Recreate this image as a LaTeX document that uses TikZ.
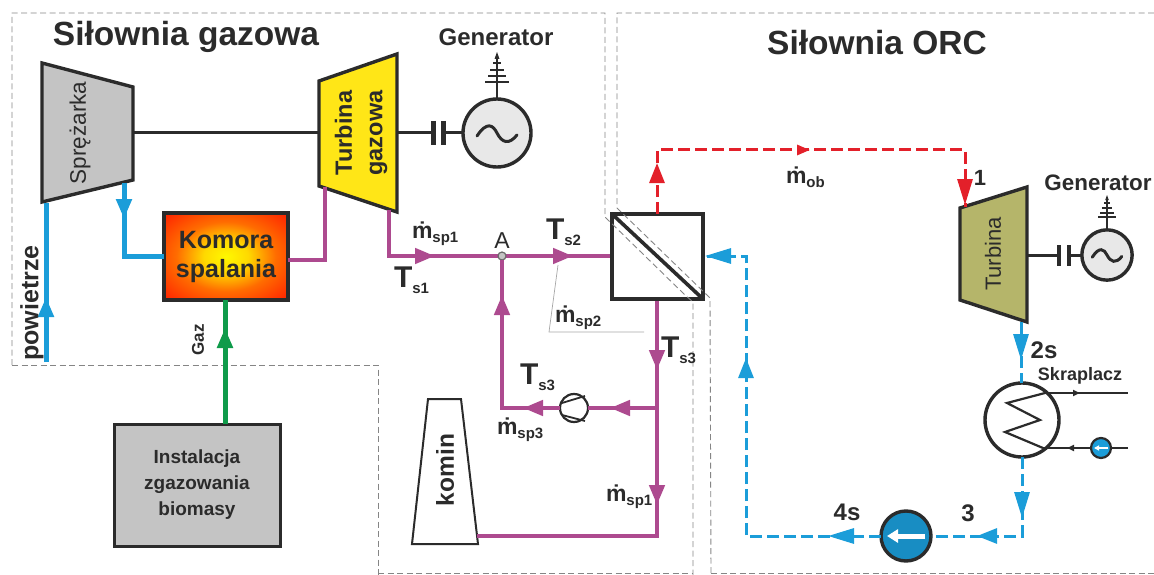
\documentclass[tikz,border=0pt]{standalone}
\usepackage{fontspec}
\setmainfont{Liberation Sans}
\usetikzlibrary{arrows.meta,decorations.markings,shapes.geometric}
\definecolor{ink}{HTML}{2B2B2B}
\definecolor{flowblue}{HTML}{1B9DD9}
\definecolor{flowpurple}{HTML}{AD4A8F}
\definecolor{flowgreen}{HTML}{0F9B4A}
\definecolor{flowred}{HTML}{E3202A}
\definecolor{boxgray}{HTML}{C4C4C4}
\definecolor{turbyellow}{HTML}{FFE617}
\definecolor{turbolive}{HTML}{B5B56A}
\definecolor{gengray}{HTML}{E8E8E8}
\definecolor{borderg}{HTML}{858585}
\pgfdeclareradialshading{flame}{\pgfpointorigin}{
  color(0bp)=(yellow!95!orange);
  color(9bp)=(yellow!70!orange);
  color(20bp)=(orange!85!red);
  color(34bp)=(red!70!orange);
  color(50bp)=(red!85!orange)}
\newcommand{\fsz}[1]{\fontsize{#1}{#1}\selectfont}
\newcommand{\bigT}[1]{{\fsz{30}\bfseries T}\raisebox{-6pt}{\fsz{15}\bfseries #1}}
\newcommand{\mdot}[1]{{\fsz{23}\bfseries \.{m}}\raisebox{-4pt}{\fsz{15}\bfseries #1}}
\tikzset{
  x=1pt,y=-1pt,
  every node/.style={text=ink,inner sep=0pt,outer sep=0pt},
  outline/.style={draw=ink,line width=3.4pt,line join=miter},
  shaft/.style={draw=ink,line width=3pt},
  air/.style={draw=flowblue,line width=5pt},
  flue/.style={draw=flowpurple,line width=4.5pt,line join=miter},
  fuel/.style={draw=flowgreen,line width=5pt},
  hotorc/.style={draw=flowred,line width=3pt,dash pattern=on 12pt off 5pt},
  coldorc/.style={draw=flowblue,line width=3pt,dash pattern=on 12pt off 5pt},
  border/.style={draw=borderg,line width=.9pt,dash pattern=on 6pt off 3.5pt},
  thinline/.style={draw=black!35,line width=.7pt},
  tipat/.style={postaction={decorate,decoration={markings,mark=at position #1pt with {\arrow[solid]{Triangle[length=20pt,width=15pt]}}}}},
  longtip/.style={postaction={decorate,decoration={markings,mark=at position #1pt with {\arrow[solid]{Triangle[length=26pt,width=15pt]}}}}},
  smalltip/.style={postaction={decorate,decoration={markings,mark=at position #1pt with {\arrow[solid]{Triangle[length=13pt,width=10pt]}}}}},
  minitip/.style={postaction={decorate,decoration={markings,mark=at position #1pt with {\arrow[solid]{Triangle[length=7pt,width=6pt]}}}}},
  gentext/.style={font=\fsz{24}\bfseries},
}
\newcommand{\gensym}[4]{% name, cx, cy, scale
  \begin{scope}[shift={(#2,#3)},scale=#4]
    \node[circle,draw=ink,fill=gengray,line width=3.4pt,minimum size=#4*68pt] (#1) at (0,0) {};
    \draw[ink,line width=3pt,line cap=round] (-20,3) .. controls (-10,-12) and (-4,-8) .. (0,0) .. controls (5,10) and (12,12) .. (20,2);
    \draw[ink,line width=2.4pt] (0,-35) -- (0,-78);
    \draw[ink,line width=2pt] (-12,-51) -- (12,-51) (-9,-57) -- (9,-57) (-7,-63) -- (7,-63) (-4,-70) -- (4,-70);
    \fill[ink] (0,-81) -- (-2.5,-74) -- (2.5,-74) -- cycle;
  \end{scope}}
\begin{document}
\begin{tikzpicture}
\useasboundingbox (0,0) rectangle (1154,575);
% region borders (outer parts)
\draw[border] (12,365) -- (378,365) -- (378,575);
\draw[border] (378,573) -- (693,573);
\draw[border] (711,573) -- (1154,573);
\node[font=\fsz{33.5}\bfseries] (title1) at (186,37) {Siłownia gazowa};
\node[font=\fsz{33.5}\bfseries] (title2) at (877,43) {Siłownia ORC};
% coordinates
\coordinate (compR) at (133,133); \coordinate (compBot) at (124,183); \coordinate (compIn) at (46,203);
\coordinate (airEnd) at (46,362);
\coordinate (turbL) at (319,133); \coordinate (turbR) at (397,133);
\coordinate (turbIn) at (325,187); \coordinate (turbOut) at (389,210);
\coordinate (corner1) at (124,256); \coordinate (corner2) at (325,260); \coordinate (corner3) at (389,256);
\coordinate (capA) at (433,133); \coordinate (capB) at (443,133);
\coordinate (capA1) at (433,121); \coordinate (capA2) at (433,145);
\coordinate (capB1) at (443,121); \coordinate (capB2) at (443,145);
\coordinate (capC) at (1059,255); \coordinate (capD) at (1069,255);
\coordinate (capC1) at (1059,245); \coordinate (capC2) at (1059,266);
\coordinate (capD1) at (1069,245); \coordinate (capD2) at (1069,266);
\coordinate (orcR) at (1027,255);
\coordinate (branch) at (657,408); \coordinate (bottomR) at (657,536);
\coordinate (retA) at (502,408);
\coordinate (hxTop) at (657,214); \coordinate (hxBot) at (657,299); \coordinate (hxL) at (612,256); \coordinate (hxR) at (703,256);
\coordinate (redA) at (657,150); \coordinate (redB) at (965,150); \coordinate (redC) at (965,207);
\coordinate (orcOut) at (1021,322); \coordinate (condTop) at (1021,383);
\coordinate (condBot) at (1022,457); \coordinate (bCorner) at (1022,536);
\coordinate (bCornerL) at (746,536); \coordinate (bCornerT) at (746,256);
\coordinate (kominIn) at (477,536);
\coordinate (cw1) at (1045,393); \coordinate (cw1e) at (1128,393);
\coordinate (cw2) at (1043,448); \coordinate (cw2e) at (1128,448);
\coordinate (leadA) at (558,265); \coordinate (leadB) at (549,332); \coordinate (leadC) at (644,332);
\coordinate (gasTop) at (225,424); \coordinate (komBot) at (225,300);
\coordinate (airInK) at (164,256); \coordinate (fluK) at (288,260);
% thin lead
\draw[thinline] (leadA) -- (leadB) -- (leadC);
% machines
\path[outline,fill=boxgray] (42,63) -- (133,87) -- (133,180) -- (42,202) -- cycle;
\node[rotate=90,font=\fsz{22.5},text=ink] (compL) at (80,133) {Sprężarka};
\path[outline,fill=turbyellow] (319,81) -- (397,54) -- (397,212) -- (319,186) -- cycle;
\node[rotate=90,font=\fsz{23.5}\bfseries,align=center] (turbT) at (361,133) {Turbina\\[7pt]gazowa};
\path[outline,fill=turbolive] (960,208) -- (1027,187) -- (1027,322) -- (960,300) -- cycle;
\node[rotate=90,font=\fsz{22}] (orcT) at (993,254) {Turbina};
% combustion chamber
\node[draw=ink,line width=3.4pt,shading=flame,minimum width=124pt,minimum height=87pt,anchor=north west] (kom) at (164,213) {};
\node[font=\fsz{25}\bfseries,align=center] (komT) at (226,257) {Komora\\[4pt]spalania};
% gasifier
\node[draw=ink,line width=3pt,fill=boxgray,minimum width=166pt,minimum height=122pt,anchor=north west,font=\fsz{19}\bfseries,align=center] (gas) at (114,424) {Instalacja\\[7pt]zgazowania\\[7pt]biomasy};
% stack
\path[draw=ink,line width=2pt] (428,399) -- (461,399) -- (478,544) -- (412,544) -- cycle;
\node[rotate=90,font=\fsz{24.5}\bfseries] (kominT) at (445,470) {komin};
% generators
\gensym{gen1}{497}{133}{1}
\gensym{gen2}{1107}{255}{.74}
\node[gentext] (gen1T) at (496,37) {Generator};
\node[font=\fsz{22.4}\bfseries] (gen2T) at (1098,183) {Generator};
% shafts
\draw[shaft] (compR) -- (turbL);
\draw[shaft] (turbR) -- (capA);
\draw[ink,line width=5pt] (capA1) -- (capA2) (capB1) -- (capB2);
\draw[shaft] (capB) -- (gen1);
\draw[shaft] (orcR) -- (capC);
\draw[ink,line width=4pt] (capC1) -- (capC2) (capD1) -- (capD2);
\draw[shaft] (capD) -- (gen2);
% air
\draw[air,tipat=65] (airEnd) -- (compIn);
\draw[air,tipat=36] (compBot) -- (corner1) -- (airInK);
\node[rotate=90,font=\fsz{25}\bfseries] (powT) at (32,303) {powietrze};
% fuel
\draw[fuel,tipat=96] (gasTop) -- (komBot);
\node[rotate=90,font=\fsz{17}\bfseries] (gazT) at (198,340) {Gaz};
% flue gas
\draw[flue] (turbIn) -- (corner2) -- (fluK);
\draw[flue,tipat=92,tipat=230] (turbOut) -- (corner3) -- (hxL);
\node[circle,draw=ink,line width=2.2pt,fill=white,minimum size=28pt] (fan) at (574,408) {};
\draw[ink,line width=1.8pt] (562,403) -- (585,396) (562,415) -- (585,421);
\node[circle,draw=ink!70,fill=boxgray,line width=1.2pt,minimum size=8pt] (A) at (502,256) {};
\draw[flue,tipat=37,tipat=171] (fan) -- (retA) -- (A);
\draw[flue,tipat=47] (branch) -- (fan);
\draw[flue,tipat=71,tipat=206] (hxBot) -- (bottomR) -- (kominIn);
% heat exchanger
\node[draw=ink,line width=3.6pt,fill=white,minimum width=91pt,minimum height=85pt,anchor=north west] (hx) at (612,214) {};
\draw[ink,line width=3.6pt] (hx.north west) -- (hx.south east);
% region borders that run across the exchanger
\draw[border] (12,365) -- (12,13) -- (605,13) -- (605,217) -- (685,295) -- (693,302) -- (693,575);
\draw[border] (1154,13) -- (617,13) -- (617,208) -- (710,298) -- (711,575);
% condenser
\node[circle,draw=ink,line width=3.4pt,fill=white,minimum size=74pt] (cond) at (1022,420) {};
\draw[ink,line width=2.2pt,line join=miter] (cw1) -- (1007,403) -- (1040,420) -- (1005,432) -- (cw2);
\draw[ink,line width=2.2pt,minitip=35] (cw1) -- (cw1e);
\node[font=\fsz{18}\bfseries] (skr) at (1080,376) {Skraplacz};
\node[circle,draw=ink,line width=2.2pt,fill=flowblue,minimum size=20pt] (cwp) at (1101,448) {};
\draw[ink,line width=2.2pt] (cw2e) -- (cwp);
\draw[ink,line width=2.2pt,minitip=24] (cwp) -- (cw2);
\draw[white,line width=1.8pt,-{Triangle[length=5pt,width=5pt]}] (1108,448) -- (1094,448);
% ORC loop
\draw[hotorc,tipat=51,smalltip=217,longtip=427] (hxTop) -- (redA) -- (redB) -- (redC);
\draw[coldorc,longtip=38] (orcOut) -- (condTop);
\node[circle,draw=ink,line width=3.4pt,fill=flowblue!90!black,minimum size=50pt] (pump) at (906,536) {};
\draw[white,line width=5pt,-{Triangle[length=11pt,width=13pt]}] (925,536) -- (887,536);
\draw[coldorc,longtip=61,tipat=124] (condBot) -- (bCorner) -- (pump);
\draw[coldorc,longtip=53,tipat=313,longtip=456] (pump) -- (bCornerL) -- (bCornerT) -- (hxR);
% labels
\node (lA) at (502,241) {\fsz{23}A};
\node[anchor=west] (lms1) at (412,234) {\mdot{sp1}};
\node[anchor=west] (lTs1) at (394,280) {\bigT{s1}};
\node[anchor=west] (lTs2) at (546,232) {\bigT{s2}};
\node[anchor=west] (lms2) at (555,318) {\mdot{sp2}};
\node[anchor=west] (lTs3a) at (661,350) {\bigT{s3}};
\node[anchor=west] (lTs3b) at (520,377) {\bigT{s3}};
\node[anchor=west] (lms3) at (497,430) {\mdot{sp3}};
\node[anchor=west] (lms1b) at (606,497) {\mdot{sp1}};
\node[anchor=west] (lmob) at (786,177) {\mdot{ob}};
\node[font=\fsz{22}\bfseries] (l1) at (980,178) {1};
\node[font=\fsz{24}\bfseries] (l2s) at (1044,350) {2s};
\node[font=\fsz{24}\bfseries] (l3) at (968,513) {3};
\node[font=\fsz{24}\bfseries] (l4s) at (847,512) {4s};
\end{tikzpicture}
\end{document}
